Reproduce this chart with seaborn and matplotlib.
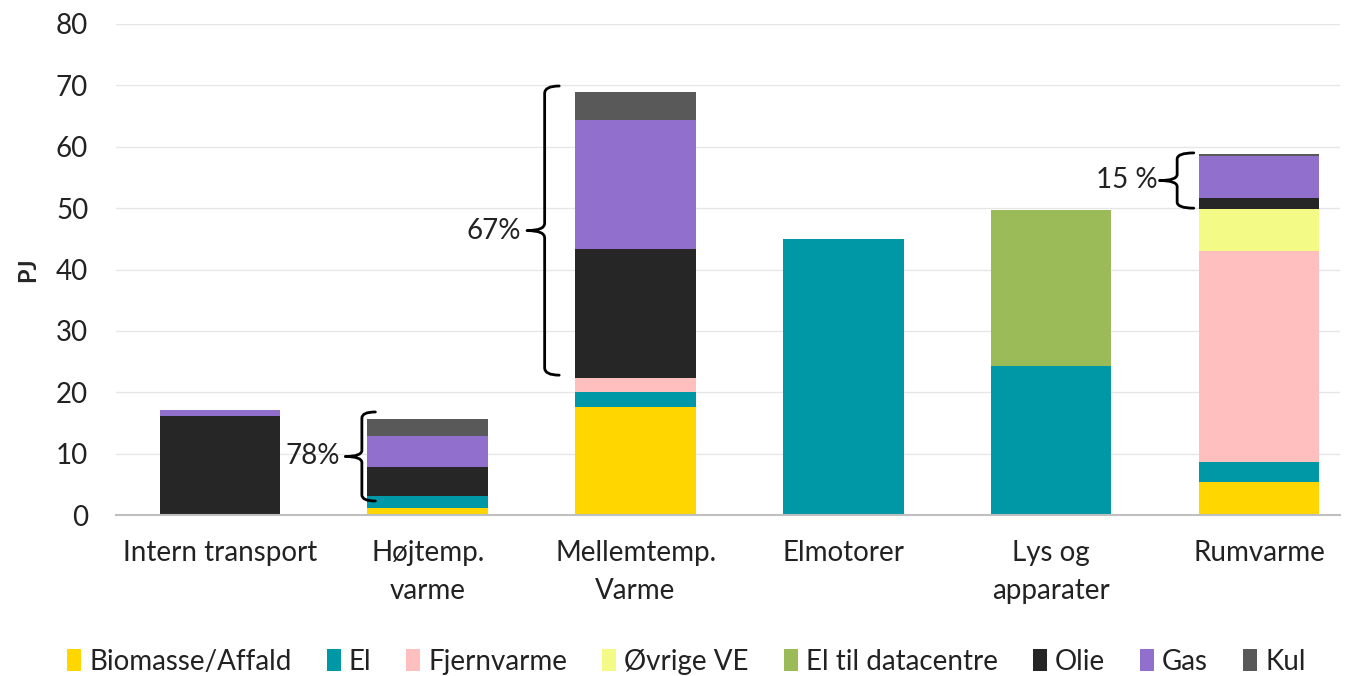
import numpy as np
import pandas as pd
import seaborn as sns
import matplotlib
matplotlib.use("Agg")
import matplotlib.pyplot as plt
from matplotlib.patches import Patch, PathPatch
from matplotlib.path import Path

categories = ["Intern transport", "Højtemp.\nvarme", "Mellemtemp.\nVarme", "Elmotorer", "Lys og\napparater", "Rumvarme"]
series = ["Biomasse/Affald", "El", "Fjernvarme", "Øvrige VE", "El til datacentre", "Olie", "Gas", "Kul"]
biomasse = [0.0, 1.2, 17.6, 0.0, 0.0, 5.4]
el = [0.0, 1.9, 2.5, 45.0, 24.3, 3.2]
fjernvarme = [0.0, 0.0, 2.3, 0.0, 0.0, 34.4]
ovrige_ve = [0.0, 0.0, 0.0, 0.0, 0.0, 6.8]
el_datacentre = [0.0, 0.0, 0.0, 0.0, 25.4, 0.0]
olie = [16.1, 4.8, 20.9, 0.0, 0.0, 1.9]
gas = [1.0, 5.0, 21.1, 0.0, 0.0, 6.8]
kul = [0.0, 2.7, 4.5, 0.0, 0.0, 0.4]
colors = ["#FFD600", "#0097A7", "#FFBFBF", "#F4FA86", "#9BBB59", "#262626", "#9070CC", "#595959"]
brace_labels = ["78%", "67%", "15 %"]

sns.set_theme(style="white")
plt.rcParams['font.family'] = ['Lato', 'DejaVu Sans']

fig = plt.figure(figsize=(13.46, 6.76), dpi=100)
ax = fig.add_axes([0.0862, 0.238, 0.9094, 0.7265])

values = np.array([biomasse, el, fjernvarme, ovrige_ve, el_datacentre, olie, gas, kul])
cum = np.cumsum(values, axis=0)
for i in range(len(series) - 1, -1, -1):
    df = pd.DataFrame({"cat": categories, "val": cum[i]})
    sns.barplot(data=df, x="cat", y="val", color=colors[i], saturation=1,
                width=0.58, linewidth=0, ax=ax, order=categories)

ax.set_ylim(0, 80)
ax.set_xlim(-0.5, 5.39)
ax.set_yticks(range(0, 81, 10))
ax.yaxis.grid(True, color="#E6E6E6", linewidth=1)
ax.set_axisbelow(True)
for s in ["top", "right", "left"]:
    ax.spines[s].set_visible(False)
ax.spines["bottom"].set_color("#BFBFBF")
ax.spines["bottom"].set_linewidth(1.5)
ax.tick_params(axis="y", labelsize=20, colors="#222222", length=0, pad=20)
ax.tick_params(axis="x", labelsize=20, colors="#222222", length=0, pad=18)
for lab in ax.get_xticklabels():
    lab.set_linespacing(1.55)
ax.set_xlabel("")
ax.set_ylabel("PJ", fontsize=17, fontweight="bold", labelpad=12)


def brace(ax, x, y0, y1, hook, tip, r):
    ym = (y0 + y1) / 2
    verts = [(x + hook, y1), (x, y1), (x, y1 - r),
             (x, ym + r), (x, ym), (x - tip, ym),
             (x, ym), (x, ym - r),
             (x, y0 + r), (x, y0), (x + hook, y0)]
    codes = [Path.MOVETO, Path.CURVE3, Path.CURVE3,
             Path.LINETO, Path.CURVE3, Path.CURVE3,
             Path.CURVE3, Path.CURVE3,
             Path.LINETO, Path.CURVE3, Path.CURVE3]
    ax.add_patch(PathPatch(Path(verts, codes), fill=False, lw=2, edgecolor="black",
                           capstyle="round", joinstyle="round", clip_on=False))


brace(ax, 0.683, 2.3, 16.8, 0.065, 0.08, 1.0)
brace(ax, 1.5625, 22.8, 69.9, 0.07, 0.085, 1.2)
brace(ax, 4.606, 50.0, 59.0, 0.08, 0.085, 1.0)
ax.text(0.58, 9.6, brace_labels[0], ha="right", va="center", fontsize=20, color="#222222")
ax.text(1.45, 46.3, brace_labels[1], ha="right", va="center", fontsize=20, color="#222222")
ax.text(4.51, 54.6, brace_labels[2], ha="right", va="center", fontsize=20, color="#222222")

handles = [Patch(facecolor=c, edgecolor="none") for c in colors]
fig.legend(handles, series, loc="lower center", bbox_to_anchor=(0.51, -0.035), ncol=8,
           frameon=False, fontsize=20, handlelength=0.5, handleheight=0.8,
           handletextpad=0.3, columnspacing=1.25, labelcolor="#222222")

fig.savefig("out.png", dpi=100)
